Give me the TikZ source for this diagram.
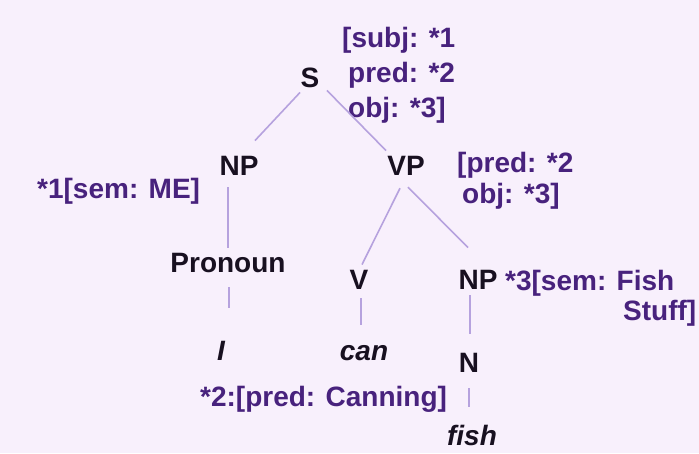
\documentclass[tikz,border=0pt]{standalone}
\usepackage{fontspec}
\setmainfont{Liberation Sans}
\definecolor{bgc}{RGB}{248,240,252}
\definecolor{annc}{RGB}{72,34,125}
\definecolor{nodec}{RGB}{24,16,32}
\definecolor{linec}{RGB}{182,162,222}
\begin{document}
\begin{tikzpicture}[x=1pt,y=-1pt,
  cat/.style={anchor=base,inner sep=0pt,text=nodec,font=\fontsize{28}{33}\selectfont\bfseries},
  word/.style={cat,font=\fontsize{28}{33}\selectfont\bfseries\itshape},
  ann/.style={anchor=base west,inner sep=0pt,text=annc,align=left,font=\fontsize{28}{33}\selectfont\bfseries},
  edge/.style={draw=linec,line width=1.6pt}]
\fill[bgc] (0,0) rectangle (699,453);
\useasboundingbox (0,0) rectangle (699,453);
% tree nodes
\node[cat] (S) at (310,87) {S};
\node[cat] (NPa) at (239,175) {NP};
\node[cat] (VP) at (406,175) {VP};
\node[cat] (Pro) at (228,272) {Pronoun};
\node[cat] (V) at (359,289) {V};
\node[cat] (NPb) at (478,289) {NP};
\node[word] (I) at (221,360) {I};
\node[word] (can) at (364,360) {can};
\node[cat] (N) at (469,372) {N};
\node[word] (fish) at (472,445) {fish};
% annotations (base = baseline of last line)
\node[ann,font=\fontsize{28}{35}\selectfont\bfseries] (annS) at (342,117) {[subj: *1\\\hspace{6pt}pred: *2\\\hspace{6pt}obj: *3]};
\node[ann] (annNP) at (37,198) {*1[sem: ME]};
\node[ann,font=\fontsize{28}{31}\selectfont\bfseries] (annVP) at (457,203) {[pred: *2\\\hspace{5pt}obj: *3]};
\node[ann,font=\fontsize{28}{30}\selectfont\bfseries] (annNPb) at (505,320) {*3[sem: Fish\\\hspace{118pt}Stuff]};
\node[ann] (annV) at (200,406) {*2:[pred: Canning]};
% edges
\draw[edge] ([shift={(-10,5)}]S.south) -- ([shift={(16,-15)}]NPa.north);
\draw[edge] ([shift={(17,3)}]S.south) -- ([shift={(-20,-5)}]VP.north);
\draw[edge] ([shift={(-11,12)}]NPa.south) -- ([shift={(0,-5)}]Pro.north);
\draw[edge] ([shift={(1,15)}]Pro.south) -- ([shift={(8,-33)}]I.north);
\draw[edge] ([shift={(-6,13)}]VP.south) -- ([shift={(3,-5)}]V.north);
\draw[edge] ([shift={(2,12)}]VP.south) -- ([shift={(-10,-22)}]NPb.north);
\draw[edge] ([shift={(2,9)}]V.south) -- ([shift={(-3,-20)}]can.north);
\draw[edge] ([shift={(-8,6)}]NPb.south) -- ([shift={(1,-19)}]N.north);
\draw[edge] ([shift={(0,16)}]N.south) -- ([shift={(-3,-18)}]fish.north);
\end{tikzpicture}
\end{document}
